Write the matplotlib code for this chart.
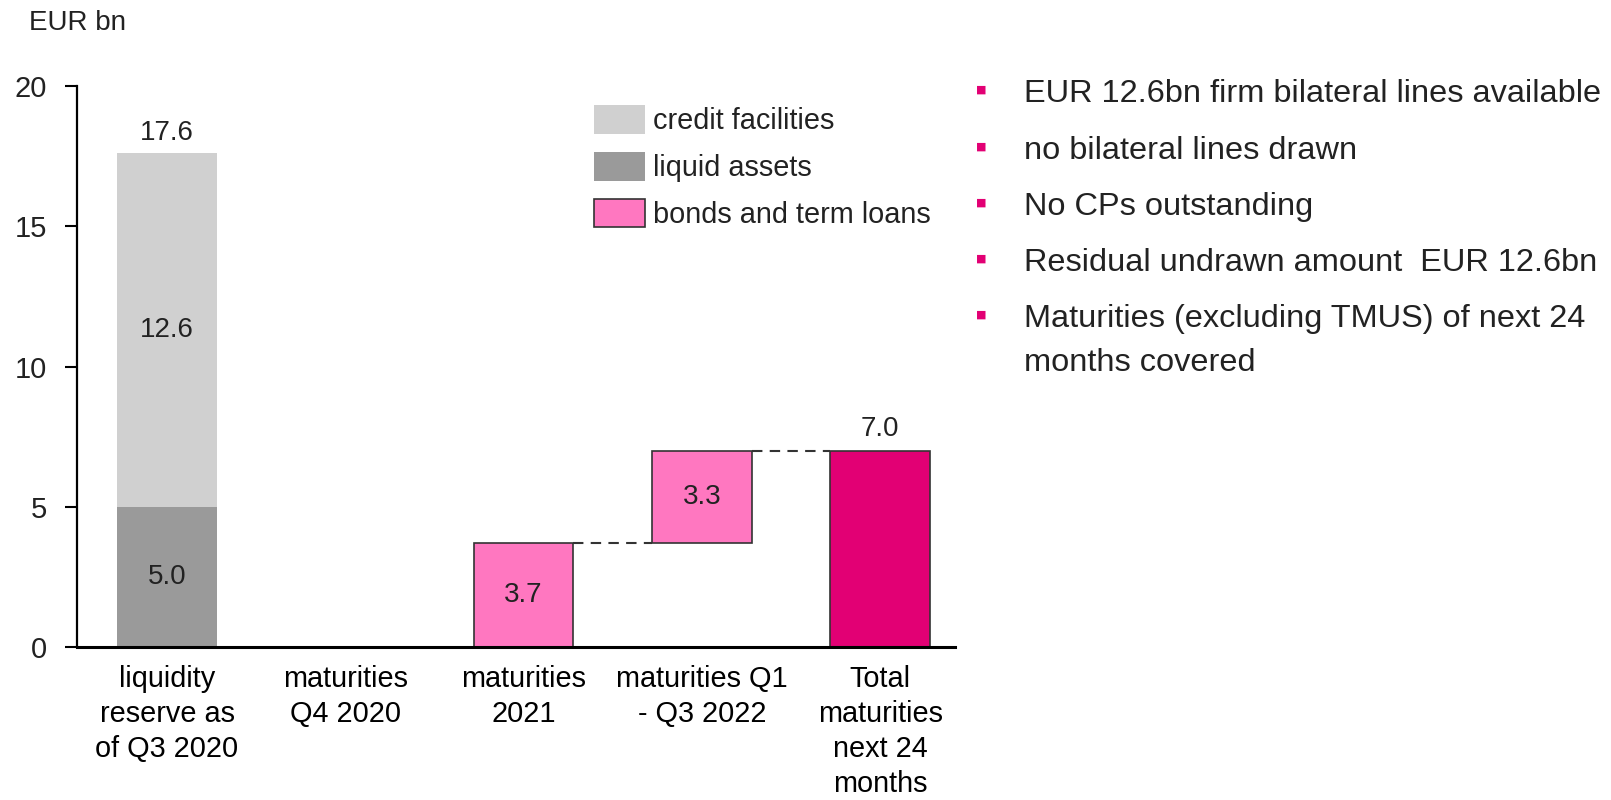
import numpy as np
import matplotlib.pyplot as plt
import matplotlib as mpl
from matplotlib.patches import Patch

mpl.rcParams.update({
    "font.family": ["Liberation Sans", "DejaVu Sans"],
    "text.color": "#222222",
    "axes.unicode_minus": False,
})

# data
categories = ["liquidity\nreserve as\nof Q3 2020", "maturities\nQ4 2020", "maturities\n2021",
              "maturities Q1\n- Q3 2022", "Total\nmaturities\nnext 24\nmonths"]
liquid_assets = 5.0
credit_facilities = 12.6
maturities = [0.0, 3.7, 3.3]   # Q4 2020, 2021, Q1-Q3 2022
total_maturities = 7.0
bullets = ["EUR 12.6bn firm bilateral lines available",
           "no bilateral lines drawn",
           "No CPs outstanding",
           "Residual undrawn amount  EUR 12.6bn",
           "Maturities (excluding TMUS) of next 24\nmonths covered"]

c_credit = '#d0d0d0'
c_liquid = '#9a9a9a'
c_pink = '#ff77c0'
c_magenta = '#e20074'
c_edge = '#333333'

W, H = 1611, 800
fig = plt.figure(figsize=(W / 100, H / 100), dpi=100, facecolor='white')
ax = fig.add_axes([77 / W, 1 - 647 / H, (955 - 77) / W, (647 - 86) / H])

bw = 0.56
x = np.arange(len(categories))

# liquidity reserve stack
ax.bar(x[0], liquid_assets, bw, color=c_liquid, linewidth=0)
ax.bar(x[0], credit_facilities, bw, bottom=liquid_assets, color=c_credit, linewidth=0)

# waterfall of maturities
bottoms = np.concatenate([[0], np.cumsum(maturities)[:-1]])
for i, (m, b) in enumerate(zip(maturities, bottoms)):
    if m > 0:
        ax.bar(x[i + 1], m, bw, bottom=b, color=c_pink, edgecolor=c_edge, linewidth=1.2)
        ax.text(x[i + 1], b + m / 2, f"{m:.1f}", ha='center', va='center', fontsize=20)

ax.bar(x[4], total_maturities, bw, color=c_magenta, edgecolor=c_edge, linewidth=1.2)

# connector lines
cum = np.cumsum(maturities)
ax.plot([x[2] + bw / 2, x[3] - bw / 2], [cum[1], cum[1]], '--', color=c_edge, lw=1.5, dashes=(5, 3.5))
ax.plot([x[3] + bw / 2, x[4] - bw / 2], [cum[2], cum[2]], '--', color=c_edge, lw=1.5, dashes=(5, 3.5))

# value labels
total_reserve = liquid_assets + credit_facilities
ax.annotate(f"{total_reserve:.1f}", (x[0], total_reserve), xytext=(0, 5), textcoords='offset points',
            ha='center', va='bottom', fontsize=20)
ax.text(x[0], liquid_assets + credit_facilities / 2, f"{credit_facilities:.1f}", ha='center', va='center', fontsize=20)
ax.text(x[0], liquid_assets / 2, f"{liquid_assets:.1f}", ha='center', va='center', fontsize=20)
ax.annotate(f"{total_maturities:.1f}", (x[4], total_maturities), xytext=(0, 6), textcoords='offset points',
            ha='center', va='bottom', fontsize=20)

ax.set_xlim(-0.505, 4.42)
ax.set_ylim(0, 20)
ax.set_yticks([0, 5, 10, 15, 20])
ax.set_xticks(x)
ax.set_xticklabels(categories, fontsize=20.8, linespacing=1.31)
ax.tick_params(axis='x', length=0, pad=13)
ax.tick_params(axis='y', labelsize=21, length=8.5, width=1.5, pad=13, colors='black', labelcolor='#222222')
for s in ['top', 'right']:
    ax.spines[s].set_visible(False)
ax.spines['left'].set_linewidth(1.6)
ax.spines['bottom'].set_linewidth(2.2)

handles = [Patch(facecolor=c_credit, edgecolor='none', label='credit facilities'),
           Patch(facecolor=c_liquid, edgecolor='none', label='liquid assets'),
           Patch(facecolor=c_pink, edgecolor=c_edge, linewidth=1.2, label='bonds and term loans')]
fig.legend(handles=handles, loc='upper left', bbox_to_anchor=(594 / W, 1 - 105 / H), frameon=False,
           fontsize=20.8, handlelength=1.75, handleheight=1.15, labelspacing=0.58, handletextpad=0.3,
           borderpad=0, borderaxespad=0)

fig.text(29 / W, 1 - 23 / H, "EUR bn", fontsize=20, ha='left', va='center')

# bullet notes
ys = [90, 147, 203, 259, 315]
for y, txt in zip(ys, bullets):
    fig.text(981 / W, 1 - y / H, "\u25a0", fontsize=8, color=c_magenta, ha='center', va='center',
             family='DejaVu Sans')
    fig.text(1024 / W, 1 - (y - 11) / H, txt, fontsize=23.4, ha='left', va='top', linespacing=1.6)

fig.savefig('out.png', dpi=100, facecolor='white')
